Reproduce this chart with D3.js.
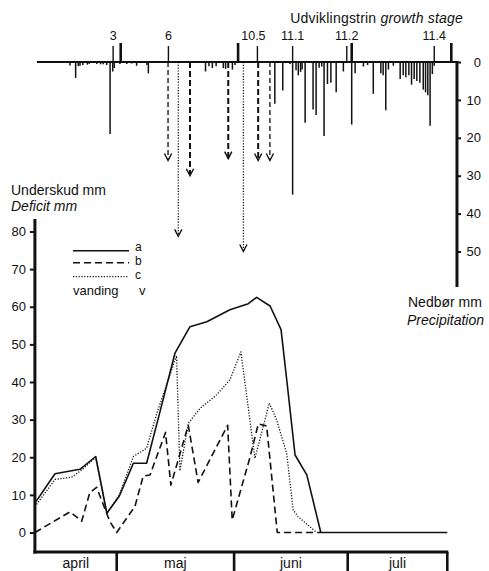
<!DOCTYPE html>
<html>
<head>
<meta charset="utf-8">
<script src="https://cdn.jsdelivr.net/npm/d3@7"></script>
<style>
  body { margin: 0; background: #fff; }
  svg { display: block; }
  text { font-family: "Liberation Sans", Arial, Helvetica, sans-serif; fill: #111; }
</style>
</head>
<body>
<svg id="chart" width="489" height="571"></svg>
<script>
// Days are counted from 1 April (day 0).
const monthNames = ["april", "maj", "juni", "juli"];
const monthBounds = [30, 61, 91];          // 1 May, 1 June, 1 July
const firstDay = 8.4, lastDay = 117.3, rainAxisDay = 118.8;

// Soil water deficit (mm): a = unirrigated, b and c = irrigated treatments
const seriesA = [[8.4,7.8],[13.7,15.6],[20.3,16.8],[24.45,20.2],[27.4,5.1],[30.7,9.7],
  [34.4,18.4],[37.9,18.4],[41.4,32],[45.4,47.7],[49.35,54.7],[53.8,56],[59.9,59.2],
  [64.75,60.8],[66.95,62.5],[70.5,60.2],[73.4,53.9],[74.9,40.6],[77.1,20.6],
  [80.2,15.3],[83.9,0],[117.3,0]];
const seriesB = [[8.4,0],[17.7,5.5],[20.75,3],[22.9,10.6],[24.7,12],[28.2,2.9],[30,0],
  [34.8,6.9],[37.0,15],[38.8,15.3],[42.9,26.6],[44.3,12.6],[48.9,28.5],[51.5,13.3],
  [59.3,28.5],[60.5,3.3],[65.2,20],[67.4,28.9],[69.6,28.3],[72.4,0],[83.7,0]];
const seriesC = [[8.4,6.9],[13.7,14.1],[18.1,14.7],[20.75,16.6],[24.45,20],[27.4,5.1],
  [30.7,10],[34.4,20.2],[37.9,22.4],[40.6,31.7],[45.8,47],[46.7,16.4],[48.9,29],
  [52.0,33],[56.4,36.6],[59.9,40.6],[62.8,48],[66.5,19.7],[70.3,34.4],[72.2,30],
  [74.9,21],[76.6,6],[77.9,4.2],[82.8,0]];

// Daily precipitation (mm)
const rain = [[16.6,0.9],[18.1,4.2],[18.8,1.1],[19.25,1],[20.0,0.8],[21.2,0.7],[21.7,0.5],
  [23.7,0.5],[24.7,0.6],[25.4,0.6],[26.3,0.8],[27.2,19],[27.9,2.5],[28.3,1.6],[29.8,0.5],
  [31.6,0.5],[32.9,0.4],[34.2,1],[36.9,0.8],[37.3,3],[52.4,2.5],[53.3,1.1],[54.2,1.6],
  [55.2,1.1],[57.1,1.6],[57.7,1.8],[59.5,2],[60.2,0.8],[70.7,11],[72.8,7.5],[74.7,0.5],
  [75.4,35],[76.3,2.2],[76.9,3.5],[77.5,2.6],[77.9,2],[78.7,16],[80.8,12.5],[81.6,14],
  [82.4,1.5],[83.1,1.2],[83.7,19.5],[84.6,5.8],[85.5,5.5],[86.9,8],[88.8,2.5],[91.0,16.5],
  [91.9,3],[94.1,1.2],[95.2,0.8],[96.7,8.4],[98.7,3],[99.3,3.5],[100.0,12.7],[100.7,2],
  [102.0,1],[103.8,4.5],[104.6,3.5],[105.3,4],[106.1,3.5],[106.8,6],[107.5,4.5],[108.2,5],
  [109.0,5.5],[109.9,7.3],[110.5,8],[111.1,8.8],[111.7,16.8],[112.3,3.2],[112.8,1]];

// Irrigations: day, amount (mm), treatment
const irrigation = [[42.5,26,"b1"],[45.2,46,"c"],[48.3,30,"b"],[58.4,25.5,"b"],
  [62.4,50,"c"],[66.3,26,"b"],[69.4,26,"b1"]];

// Growth stages
const stageLabels = ["3","6","10.5","11.1","11.2","11.4"];
const stageDays = [28.0, 42.6, 66.1, 75.4, 89.7, 112.8];

const deficitTicks = [0,10,20,30,40,50,60,70,80];
const rainTicks = [0,10,20,30,40,50];

const svg = d3.select("#chart");

const x = d3.scaleLinear().domain([0, 91]).range([3.1, 347.7]);
const xTop = d3.scaleLinear().domain([0, 91]).range([7.1, 351.7]);
const y = d3.scaleLinear().domain([0, 80]).range([532.5, 231.5]);
const yRain = d3.scaleLinear().domain([0, 50]).range([62, 251.5]);

const ink = "#111";

// ---------- precipitation panel ----------
const upper = svg.append("g");
upper.append("line")
  .attr("x1", xTop(firstDay) - 2).attr("x2", xTop(rainAxisDay))
  .attr("y1", yRain(0)).attr("y2", yRain(0))
  .attr("stroke", ink).attr("stroke-width", 2.2);

upper.selectAll("line.rain").data(rain).join("line")
  .attr("class", "rain")
  .attr("x1", d => xTop(d[0])).attr("x2", d => xTop(d[0]))
  .attr("y1", yRain(0)).attr("y2", d => yRain(d[1]))
  .attr("stroke", ink).attr("stroke-width", 1.5);

// growth stage marks
upper.selectAll("line.stage").data(stageDays).join("line")
  .attr("class", "stage")
  .attr("x1", d => xTop(d)).attr("x2", d => xTop(d))
  .attr("y1", 46).attr("y2", yRain(0))
  .attr("stroke", ink).attr("stroke-width", 1.4);
upper.selectAll("text.stage").data(stageDays).join("text")
  .attr("class", "stage")
  .attr("x", (d, i) => xTop(d) - (i === 2 ? 4 : 0)).attr("y", 40)
  .attr("text-anchor", "middle").attr("font-size", 12.5)
  .text((d, i) => stageLabels[i]);

// month marks above the precipitation baseline
upper.selectAll("line.mon").data(monthBounds.concat([lastDay])).join("line")
  .attr("class", "mon")
  .attr("x1", d => xTop(d)).attr("x2", d => xTop(d))
  .attr("y1", 43).attr("y2", yRain(0))
  .attr("stroke", ink).attr("stroke-width", 2.6);

upper.append("text").attr("x", 463).attr("y", 23).attr("text-anchor", "end")
  .attr("font-size", 14).attr("letter-spacing", 0.2)
  .call(t => {
    t.append("tspan").text("Udviklingstrin ");
    t.append("tspan").attr("font-style", "italic").text("growth stage");
  });

// irrigation arrows
const irrStyle = {
  b:  { w: 2.0, dash: "6,3" },
  b1: { w: 1.3, dash: "5,3" },
  c:  { w: 1.3, dash: "1.2,1.6" }
};
irrigation.forEach(([day, mm, kind]) => {
  const xx = xTop(day), tip = yRain(mm), s = irrStyle[kind];
  upper.append("line")
    .attr("x1", xx).attr("x2", xx).attr("y1", yRain(0)).attr("y2", tip - 1)
    .attr("stroke", ink).attr("stroke-width", s.w).attr("stroke-dasharray", s.dash);
  upper.append("path")
    .attr("d", `M${xx - 3.6},${tip - 7}L${xx},${tip}L${xx + 3.6},${tip - 7}`)
    .attr("fill", "none").attr("stroke", ink).attr("stroke-width", 1.4);
});

// right-hand precipitation axis
const rainAxisX = xTop(rainAxisDay);
upper.append("line").attr("x1", rainAxisX).attr("x2", rainAxisX)
  .attr("y1", yRain(0) - 1).attr("y2", 287)
  .attr("stroke", ink).attr("stroke-width", 3);
const rAxis = upper.append("g").attr("transform", `translate(${rainAxisX},0)`)
  .call(d3.axisRight(yRain).tickValues(rainTicks).tickSize(4).tickSizeOuter(0));
rAxis.select(".domain").remove();
rAxis.selectAll(".tick line").attr("stroke", ink).attr("stroke-width", 2);
rAxis.selectAll(".tick text").attr("x", 24).attr("text-anchor", "end")
  .attr("font-size", 13).attr("fill", ink)
  .attr("font-family", "Liberation Sans, Arial, sans-serif");

upper.append("text").attr("x", 408).attr("y", 307).attr("font-size", 14).text("Nedbør mm");
upper.append("text").attr("x", 407).attr("y", 325).attr("font-size", 14)
  .attr("font-style", "italic").text("Precipitation");

// ---------- deficit panel ----------
const lower = svg.append("g");

lower.append("text").attr("x", 11).attr("y", 195).attr("font-size", 14).text("Underskud mm");
lower.append("text").attr("x", 11).attr("y", 211).attr("font-size", 14)
  .attr("font-style", "italic").text("Deficit mm");

const axisBottomY = 552;
lower.append("line").attr("x1", x(firstDay)).attr("x2", x(firstDay))
  .attr("y1", 219).attr("y2", axisBottomY + 1.5)
  .attr("stroke", ink).attr("stroke-width", 3);
lower.append("line").attr("x1", x(firstDay) - 1.5).attr("x2", x(lastDay) + 1)
  .attr("y1", axisBottomY).attr("y2", axisBottomY)
  .attr("stroke", ink).attr("stroke-width", 3);

const lAxis = lower.append("g").attr("transform", `translate(${x(firstDay) - 1},0)`)
  .call(d3.axisLeft(y).tickValues(deficitTicks).tickSize(4).tickSizeOuter(0));
lAxis.select(".domain").remove();
lAxis.selectAll(".tick line").attr("stroke", ink).attr("stroke-width", 2);
lAxis.selectAll(".tick text").attr("x", -8).attr("font-size", 13).attr("fill", ink)
  .attr("font-family", "Liberation Sans, Arial, sans-serif");

// month separators and names
lower.selectAll("line.msep").data(monthBounds.concat([lastDay])).join("line")
  .attr("class", "msep")
  .attr("x1", d => x(d)).attr("x2", d => x(d))
  .attr("y1", axisBottomY).attr("y2", 575)
  .attr("stroke", ink).attr("stroke-width", 2.6);
const edges = [firstDay].concat(monthBounds, [lastDay]);
lower.selectAll("text.mon").data(monthNames).join("text")
  .attr("class", "mon")
  .attr("x", (d, i) => (x(edges[i]) + x(edges[i + 1])) / 2)
  .attr("y", 568).attr("text-anchor", "middle").attr("font-size", 14)
  .text(d => d);

// deficit curves
const line = d3.line().x(d => x(d[0])).y(d => y(d[1]));
const styles = {
  a: { w: 1.6, dash: null },
  b: { w: 1.6, dash: "7,4" },
  c: { w: 1.3, dash: "1.2,1.6" }
};
[[seriesA, "a"], [seriesB, "b"], [seriesC, "c"]].forEach(([data, k]) => {
  lower.append("path").datum(data).attr("d", line)
    .attr("fill", "none").attr("stroke", ink)
    .attr("stroke-width", styles[k].w)
    .attr("stroke-dasharray", styles[k].dash)
    .attr("stroke-linejoin", "round");
});

// legend
const legendRows = [["a", 250.7, 251], ["b", 262.7, 264.5], ["c", 276.7, 279]];
legendRows.forEach(([k, ly, ty]) => {
  lower.append("line").attr("x1", 73).attr("x2", 129).attr("y1", ly).attr("y2", ly)
    .attr("stroke", ink).attr("stroke-width", styles[k].w)
    .attr("stroke-dasharray", styles[k].dash);
  lower.append("text").attr("x", 135).attr("y", ty).attr("font-size", 12).text(k);
});
lower.append("text").attr("x", 73).attr("y", 294.5).attr("font-size", 13).text("vanding");
lower.append("text").attr("x", 139).attr("y", 294.5).attr("font-size", 13).text("v");
</script>
</body>
</html>
